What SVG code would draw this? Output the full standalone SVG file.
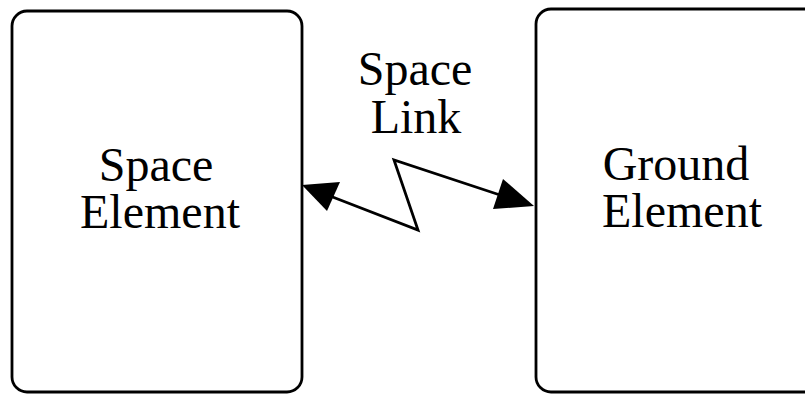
<svg xmlns="http://www.w3.org/2000/svg" width="805" height="394" viewBox="0 0 805 394">
<style>
.box{fill:#fff;stroke:#000;stroke-width:2.8}
.lbl{font-family:"Liberation Serif","Times New Roman",serif;font-size:48px;fill:#000;text-anchor:middle}
.link{fill:none;stroke:#000;stroke-width:2.8;stroke-linejoin:miter}
</style>
<rect width="805" height="394" fill="#fff"/>
<g id="space-element">
<rect class="box" x="12" y="11" width="290" height="381" rx="15" ry="15"/>
<text class="lbl"><tspan x="156" y="181">Space</tspan><tspan x="160" y="228">Element</tspan></text>
</g>
<g id="ground-element">
<rect class="box" x="536" y="9" width="290" height="383" rx="15" ry="15"/>
<text class="lbl"><tspan x="676" y="180">Ground</tspan><tspan x="682" y="227">Element</tspan></text>
</g>
<g id="connectors">
<polyline class="link" points="330,196 418,230 394,160 500,195"/>
<polygon points="302,185 340,182 327,211" fill="#000"/>
<polygon points="534,206 503,179 493,209" fill="#000"/>
<text class="lbl"><tspan x="415" y="85">Space</tspan><tspan x="416" y="133">Link</tspan></text>
</g>
</svg>
